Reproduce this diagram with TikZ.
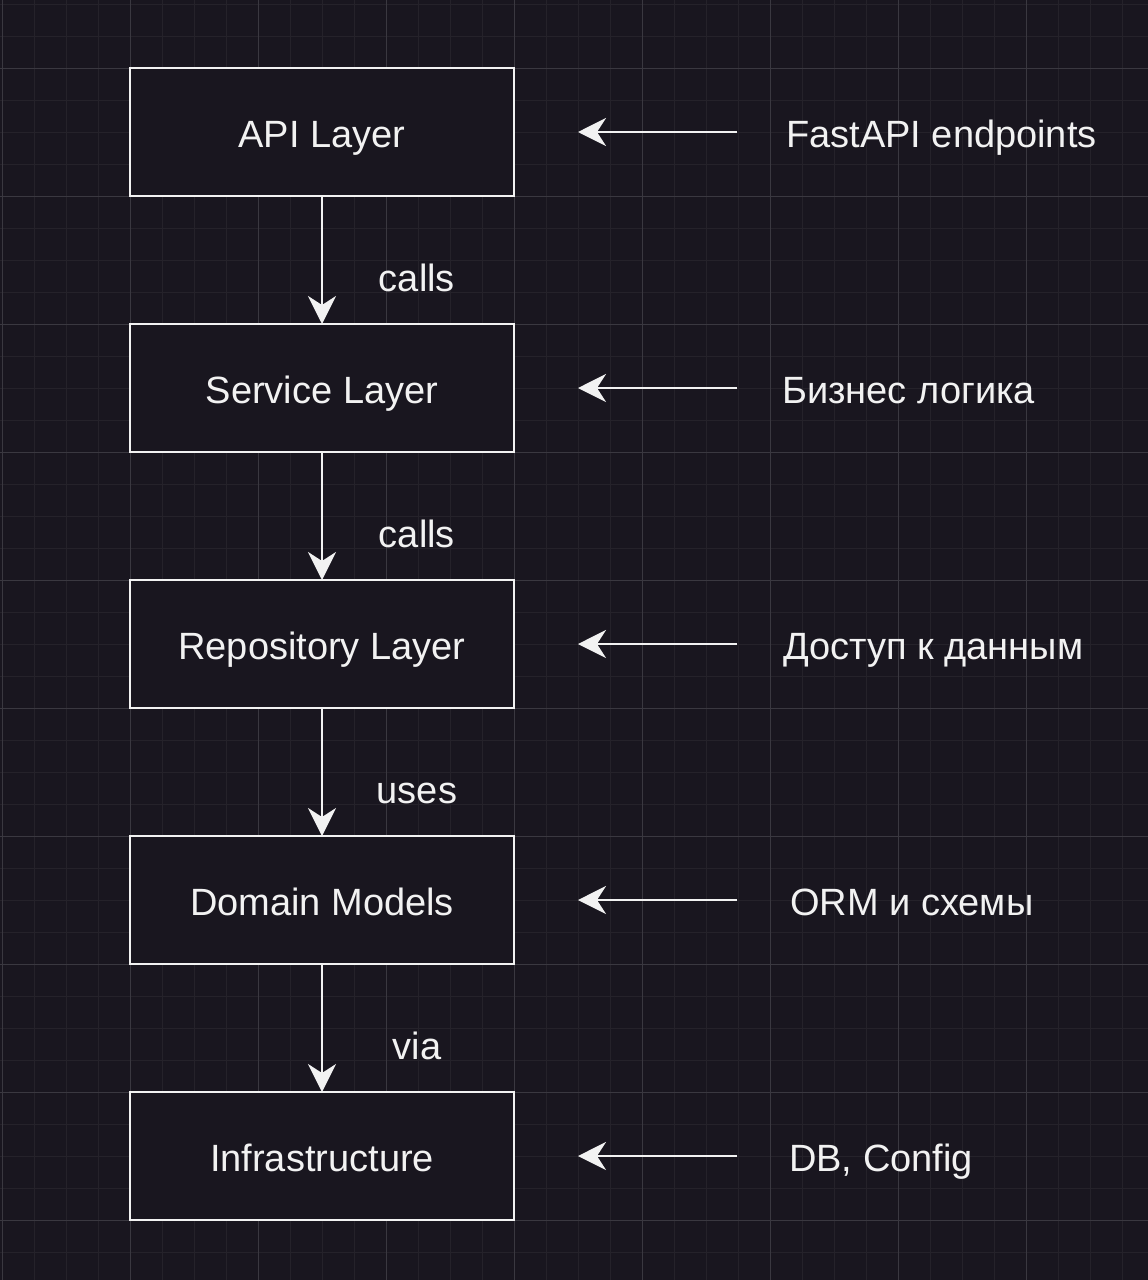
\documentclass[tikz,border=0pt]{standalone}
\usepackage{fontspec}
\setmainfont{Liberation Sans}
\usetikzlibrary{arrows.meta, positioning}
\definecolor{bgcol}{HTML}{19161F}
\definecolor{minorcol}{HTML}{25222A}
\definecolor{majorcol}{HTML}{3A3840}
\definecolor{inkcol}{HTML}{F2F2F2}

\begin{document}
\begin{tikzpicture}[
    x=1pt, y=-1pt,
    node distance=128pt and 272pt,
    every node/.style={align=center, text=inkcol, font=\fontsize{38}{44}\selectfont, text height=31pt, text depth=0pt},
    box/.style={draw=inkcol, fill=bgcol, line width=2.5pt, outer sep=0pt, minimum width=384pt, minimum height=128pt},
    note/.style={inner sep=0pt, anchor=west},
    lbl/.style={xshift=95pt, yshift=-16pt},
    arr/.style={draw=inkcol, line width=2.5pt, -{Stealth[length=28pt, width=28pt, inset=9pt]}},
    >=Stealth
]
% background and grid
\fill[bgcol] (0,0) rectangle (1148,1280);
\useasboundingbox (0,0) rectangle (1148,1280);
\foreach \gx in {2,34,...,1148} \draw[minorcol, line width=1pt] (\gx,0) -- (\gx,1280);
\foreach \gy in {4,36,...,1280} \draw[minorcol, line width=1pt] (0,\gy) -- (1148,\gy);
\foreach \gx in {2,130,...,1148} \draw[majorcol, line width=1pt] (\gx,0) -- (\gx,1280);
\foreach \gy in {68,196,...,1280} \draw[majorcol, line width=1pt] (0,\gy) -- (1148,\gy);

% layers
\node[box] (api) at (322,132) {API Layer};
\node[box, below=of api] (service) {Service Layer};
\node[box, below=of service] (repo) {Repository Layer};
\node[box, below=of repo] (domain) {Domain Models};
\node[box, below=of domain] (infra) {Infrastructure};

% notes on the right
\node[note, right=of api] (apinote) {FastAPI endpoints};
\node[note, right=268pt of service] (servicenote) {Бизнес логика};
\node[note, right=269pt of repo] (reponote) {Доступ к данным};
\node[note, right=276pt of domain] (domainnote) {ORM и схемы};
\node[note, right=275pt of infra] (infranote) {DB, Config};

\draw[arr] (api) -- node[lbl] {calls} (service);
\draw[arr] (service) -- node[lbl] {calls} (repo);
\draw[arr] (repo) -- node[lbl] {uses} (domain);
\draw[arr] (domain) -- node[lbl] {via} (infra);

\draw[arr, shorten <=49pt, shorten >=64pt] (apinote.west) -- (api.east);
\draw[arr, shorten <=45pt, shorten >=64pt] (servicenote.west) -- (service.east);
\draw[arr, shorten <=46pt, shorten >=64pt] (reponote.west) -- (repo.east);
\draw[arr, shorten <=53pt, shorten >=64pt] (domainnote.west) -- (domain.east);
\draw[arr, shorten <=52pt, shorten >=64pt] (infranote.west) -- (infra.east);
\end{tikzpicture}
\end{document}
